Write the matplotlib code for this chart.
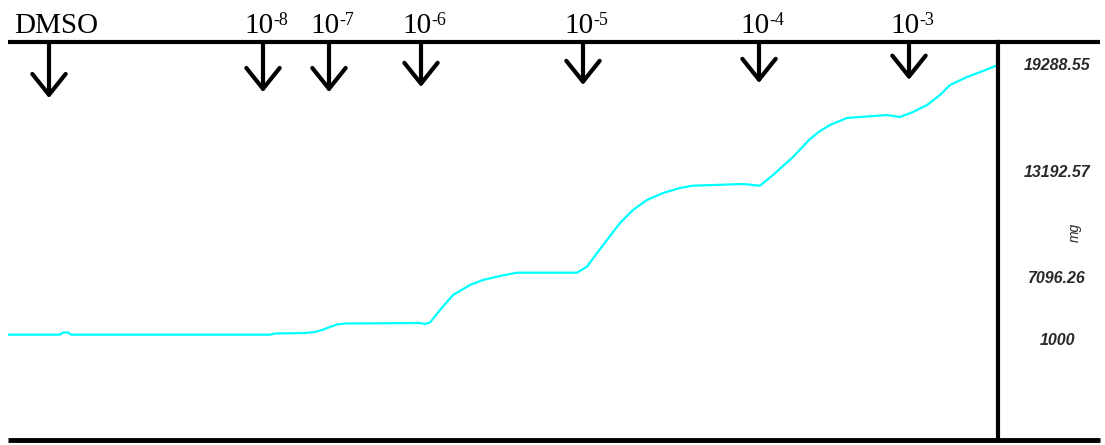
import matplotlib
matplotlib.use("Agg")
import matplotlib.pyplot as plt
from matplotlib.transforms import blended_transform_factory

# trace: time (arbitrary units) and tension (mg)
t = [0, 52, 55, 60, 63, 262, 267, 297, 307, 314, 322, 329, 337, 412, 417, 422,
     432, 445, 462, 475, 492, 509, 569, 579, 589, 599, 612, 625, 639, 655, 672,
     685, 735, 752, 765, 785, 802, 812, 822, 839, 852, 879, 892, 905, 919, 932,
     942, 959, 975, 990]
mg = [1352, 1352, 1500, 1500, 1352, 1352, 1432, 1466, 1532, 1665, 1865, 2031,
      2097, 2131, 2064, 2164, 2995, 3993, 4658, 4990, 5256, 5476, 5476, 5875,
      6786, 7650, 8781, 9646, 10311, 10776, 11109, 11262, 11375, 11262, 11973,
      13170, 14367, 14899, 15298, 15764, 15830, 15963, 15830, 16163, 16628,
      17293, 17958, 18491, 18890, 19289]

# additions
dose_t = [41, 255, 321, 413, 575, 751, 901]
dose_exp = ["-8", "-7", "-6", "-5", "-4", "-3"]
arrow_len = [0.141, 0.126, 0.126, 0.113, 0.108, 0.103, 0.095]

# scale labels on the right
scale_labels = ["19288.55", "13192.57", "7096.26", "1000"]
scale_pos = [0.942, 0.673, 0.407, 0.251]

fig = plt.figure(figsize=(11.05, 4.45), dpi=100)
ax = fig.add_axes([8/1105, 5/445, 990/1105, 398/445])
ax.plot(t, mg, color="#00ffff", lw=1.6)
ax.set_xlim(0, 990)
ax.set_ylim(-5650, 20818)
ax.set_xticks([])
ax.set_yticks([])
for s in ["left", "top", "bottom"]:
    ax.spines[s].set_visible(False)
ax.spines["right"].set_linewidth(3)

# top and bottom lines run past the right axis
ax.plot([0, 1.103], [1, 1], transform=ax.transAxes, clip_on=False, color="k", lw=3, solid_capstyle="butt")
ax.plot([0, 1.103], [0, 0], transform=ax.transAxes, clip_on=False, color="k", lw=3.5, solid_capstyle="butt")

tr = blended_transform_factory(ax.transData, ax.transAxes)
for i in range(len(dose_t)):
    ax.annotate("", xy=(dose_t[i], 1 - arrow_len[i]), xytext=(dose_t[i], 1.0),
                xycoords=tr, textcoords=tr,
                arrowprops=dict(arrowstyle="->,head_length=0.75,head_width=0.6",
                                lw=3, color="k", mutation_scale=20,
                                shrinkA=0, shrinkB=0))

serif = "Liberation Serif"
ax.text(6.5, 1.0226, "DMSO", transform=tr, fontsize=21, family=serif,
        va="baseline", ha="left", clip_on=False)
for i in range(len(dose_exp)):
    x0 = dose_t[i + 1] - 19
    ax.text(x0, 1.0226, "10", transform=tr, fontsize=21, family=serif,
            va="baseline", ha="left", clip_on=False)
    ax.annotate(dose_exp[i], xy=(x0, 1.0226), xycoords=tr,
                xytext=(21, 5.8), textcoords="offset points",
                fontsize=13, family=serif, va="baseline", ha="left",
                annotation_clip=False)

for lab, p in zip(scale_labels, scale_pos):
    ax.text(1.0596, p, lab, transform=ax.transAxes, fontsize=11.5,
            family="Liberation Sans", style="italic", weight="bold", ha="center",
            va="center", clip_on=False, color="#2a2a2a")
ax.text(1.0778, 0.5226, "mg", transform=ax.transAxes, fontsize=10,
        family="Liberation Sans", style="italic", rotation=90,
        ha="center", va="center", clip_on=False, color="#2a2a2a")

fig.savefig("out.png", dpi=100)
